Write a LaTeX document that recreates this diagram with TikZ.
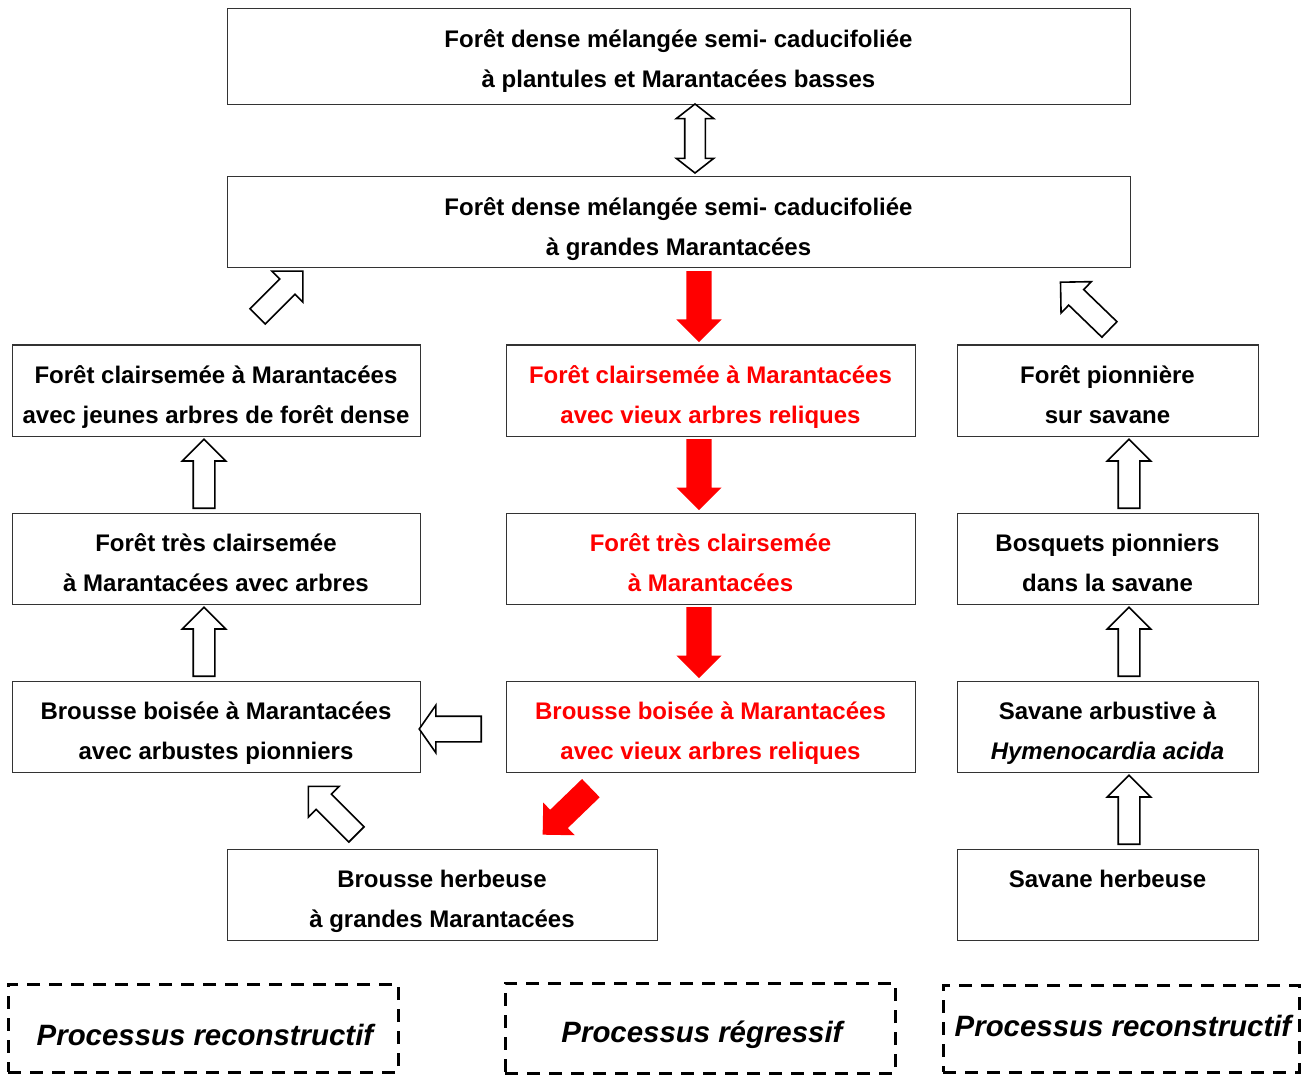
\documentclass[tikz,border=0pt]{standalone}
\usepackage{fontspec}
\setmainfont{Liberation Sans}
\usetikzlibrary{shapes.arrows}

\definecolor{regred}{RGB}{255,0,0}

\tikzset{
  box/.style={draw=black!80, line width=1pt, rectangle, inner sep=0pt},
  txt/.style={font=\fontsize{24}{40}\selectfont\bfseries, align=center, inner sep=0pt, anchor=north},
  dbox/.style={draw=black, line width=3pt, dash pattern=on 13pt off 9pt, rectangle, inner sep=0pt},
  dtxt/.style={font=\fontsize{29.4}{35}\selectfont\bfseries\itshape, inner sep=0pt, anchor=base},
  % block arrows, placed by their tail; the shaft width is twice the inner ysep
  hollow/.style={single arrow, draw=black, line width=1.6pt, fill=white, anchor=tail,
    inner xsep=0pt, inner ysep=10pt, single arrow head extend=11pt,
    single arrow tip angle=90, minimum height=#1},
  hollow/.default=68pt,
  redarrow/.style={single arrow, draw=none, fill=regred, anchor=tail,
    inner xsep=0pt, inner ysep=12.5pt, single arrow head extend=10pt,
    single arrow tip angle=90, minimum height=#1},
  redarrow/.default=71pt,
}

% \cell{name}{x1}{y1}{x2}{y2}{text colour}{text}
\newcommand\cell[7]{%
  \node[box, minimum width={#4-#2}, minimum height={#5-#3}] (#1) at ({(#2+#4)/2},{(#3+#5)/2}) {};
  \node[txt, text=#6] (#1-t) at ({(#2+#4)/2},{#3+10}) {\strut #7};
}

\begin{document}
\begin{tikzpicture}[x=1pt, y=-1pt]
\useasboundingbox (0,0) rectangle (1312,1075);

% upper forest stages
\cell{top}{227}{9}{1130}{105}{black}{Forêt dense mélangée semi- caducifoliée\\à plantules et Marantacées basses}
\cell{mid}{227}{177}{1130}{268}{black}{Forêt dense mélangée semi- caducifoliée\\à grandes Marantacées}

% left column: reconstruction
\cell{l1}{12}{345}{420}{436}{black}{Forêt clairsemée à Marantacées\\avec jeunes arbres de forêt dense}
\cell{l2}{12}{513}{420}{604}{black}{Forêt très clairsemée\\à Marantacées avec arbres}
\cell{l3}{12}{681}{420}{772}{black}{Brousse boisée à Marantacées\\avec arbustes pionniers}

% middle column: regression
\cell{m1}{506}{345}{915}{436}{regred}{Forêt clairsemée à Marantacées\\avec vieux arbres reliques}
\cell{m2}{506}{513}{915}{604}{regred}{Forêt très clairsemée\\à Marantacées}
\cell{m3}{506}{681}{915}{772}{regred}{Brousse boisée à Marantacées\\avec vieux arbres reliques}

% right column: savanna recolonisation
\cell{r1}{957}{345}{1258}{436}{black}{Forêt pionnière\\sur savane}
\cell{r2}{957}{513}{1258}{604}{black}{Bosquets pionniers\\dans la savane}
\cell{r3}{957}{681}{1258}{772}{black}{Savane arbustive à\\\textit{Hymenocardia acida}}
\cell{r4}{957}{849}{1258}{940}{black}{Savane herbeuse}

% bottom stage
\cell{bb}{227}{849}{657}{940}{black}{Brousse herbeuse\\à grandes Marantacées}

% two-way arrow between the dense forest types
\node[double arrow, draw=black, line width=1.6pt, fill=white,
  inner xsep=0pt, inner ysep=9.5pt, double arrow head extend=8.5pt,
  double arrow tip angle=104, minimum height=69pt, rotate=90] (dbl) at (695,138.5) {};

% regressive sequence
\node[redarrow, rotate=270] (ra1) at (699,271) {};
\node[redarrow, rotate=270] (ra2) at (699,439) {};
\node[redarrow, rotate=270] (ra3) at (699,607) {};
\node[redarrow=67pt, rotate=224] (ra4) at (591,788) {};

% reconstructive sequence, left
\node[hollow=69pt, rotate=90] (la1) at (204,509) {};
\node[hollow=69pt, rotate=90] (la2) at (204,677) {};
\node[hollow=64pt, rotate=45] (la3) at (257,317) {};
\node[hollow=68pt, rotate=135] (la4) at (357,835) {};
\node[single arrow, draw=black, line width=1.6pt, fill=white, anchor=tail,
  inner xsep=0pt, inner ysep=12pt, single arrow head extend=11pt,
  single arrow tip angle=110, minimum height=62pt, rotate=180] (la5) at (482,729) {};

% reconstructive sequence, right
\node[hollow=69pt, rotate=90] (ha1) at (1129,509) {};
\node[hollow=69pt, rotate=90] (ha2) at (1129,677) {};
\node[hollow=69pt, rotate=90] (ha3) at (1129,845) {};
\node[hollow=68pt, rotate=136] (ha4) at (1110,330) {};

% legend frames
\node[dbox, minimum width=390pt, minimum height=88pt] (d1) at (203,1028) {};
\node[dtxt] (d1-t) at (205,1045) {Processus reconstructif};
\node[dbox, minimum width=390pt, minimum height=90pt] (d2) at (700,1028) {};
\node[dtxt] (d2-t) at (702,1042) {Processus régressif};
\node[dbox, minimum width=356pt, minimum height=87pt] (d3) at (1121,1028.5) {};
\node[dtxt] (d3-t) at (1123,1036) {Processus reconstructif};
\end{tikzpicture}
\end{document}
